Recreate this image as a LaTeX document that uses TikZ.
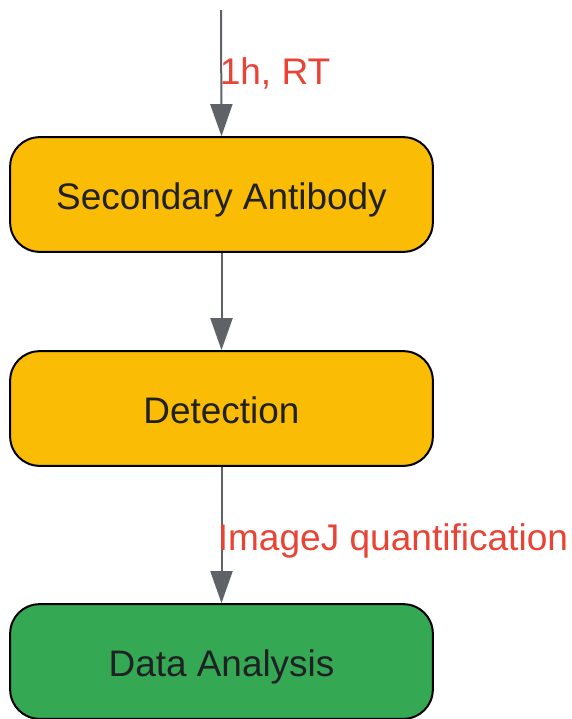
\documentclass[tikz,border=0pt]{standalone}
\usepackage{fontspec}
\setmainfont{Liberation Sans}
\usetikzlibrary{arrows.meta}
\definecolor{boxyellow}{HTML}{FBBC05}
\definecolor{boxgreen}{HTML}{34A853}
\definecolor{edgegray}{HTML}{5F6368}
\definecolor{labred}{HTML}{EA4335}
\definecolor{txtdark}{HTML}{202124}
\newcommand{\lowertxt}[1]{\raisebox{-2.3pt}{#1}}
\begin{document}
\begin{tikzpicture}[x=0.75pt,y=-0.75pt,
  stepbox/.style={draw=black, line width=1.5pt, rounded corners=22pt,
    minimum width=317pt, minimum height=86pt, inner sep=0pt, text depth=0pt,
    text=txtdark, font=\fontsize{27.7pt}{30pt}\selectfont},
  conn/.style={draw=edgegray, line width=1.5pt,
    -{Triangle[width=16.5pt,length=24pt]}},
  lab/.style={text=labred, font=\fontsize{27.8pt}{30pt}\selectfont, anchor=west, inner sep=0pt}]
\useasboundingbox (0,0) rectangle (572,719);
\coordinate (start) at (221,10);
\node[stepbox, fill=boxyellow] (sec) at (221.5,194.5) {\lowertxt{Secondary Antibody}};
\node[stepbox, fill=boxyellow] (det) at (221.5,408.5) {\lowertxt{Detection}};
\node[stepbox, fill=boxgreen] (data) at (221.5,661.5) {\lowertxt{Data Analysis}};
\draw[conn] (start) -- (sec.north);
\draw[conn] (sec.south) -- (det.north);
\draw[conn] (det.south) -- (data.north);
\node[lab] (l1) at (219.5,73) {1h, RT};
\node[lab] (l2) at (217.5,541) {ImageJ quantification};
\end{tikzpicture}
\end{document}
